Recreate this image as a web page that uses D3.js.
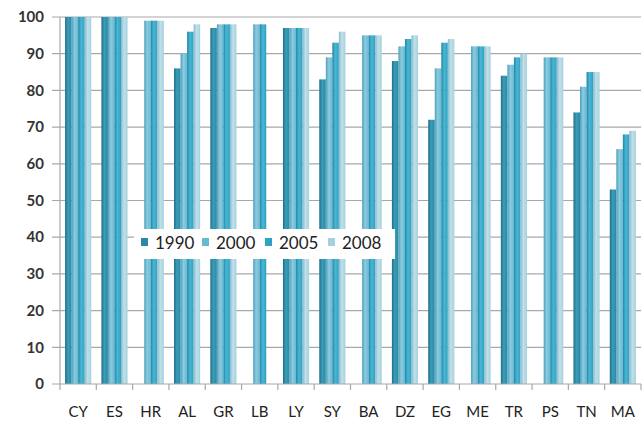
<!DOCTYPE html>
<html><head><meta charset="utf-8">
<script src="https://cdn.jsdelivr.net/npm/d3@7"></script>
<style>
html,body{margin:0;padding:0;background:#fff;}
svg{display:block;}
text{font-family:Lato,"Open Sans",sans-serif;}
</style></head>
<body><svg id="c" width="642" height="421"></svg>
<script>
const categories = ["CY","ES","HR","AL","GR","LB","LY","SY","BA","DZ","EG","ME","TR","PS","TN","MA"];
const seriesNames = ["1990","2000","2005","2008"];
const v1990 = [100,100,null,86,97,null,97,83,null,88,72,null,84,null,74,53];
const v2000 = [100,100,99,90,98,98,97,89,95,92,86,92,87,89,81,64];
const v2005 = [100,100,99,96,98,98,97,93,95,94,93,92,89,89,85,68];
const v2008 = [100,100,99,98,98,null,97,96,95,95,94,92,90,89,85,69];
const yTicks = [0,10,20,30,40,50,60,70,80,90,100];
const colors = ["#2a88a4","#68b8d2","#2ea2c3","#a5d1de"];
const dark = ["#1d6f87","#4c9fbb","#1f87a6","#8ab9c9"];
const light = ["#3c9db8","#8ccbe0","#4ab6d4","#c0e0ea"];

const seriesVals = [v1990,v2000,v2005,v2008];
const svg = d3.select("#c");
const m = {l:60, r:641, t:17, b:384};
const x = d3.scaleBand().domain(categories).range([m.l, m.r]).paddingInner(0.28).paddingOuter(0.14);
const x0 = d3.scaleBand().domain(categories).range([m.l, m.r]);
const xs = d3.scaleBand().domain(seriesNames).range([0, x.bandwidth()]);
const y = d3.scaleLinear().domain([0,100]).range([m.b, m.t]);

const defs = svg.append("defs");
seriesNames.forEach((s,i)=>{
  const g = defs.append("linearGradient").attr("id","g"+i).attr("x1","0").attr("x2","1").attr("y1","0").attr("y2","0");
  g.append("stop").attr("offset","0").attr("stop-color",dark[i]);
  g.append("stop").attr("offset","0.45").attr("stop-color",light[i]);
  g.append("stop").attr("offset","1").attr("stop-color",colors[i]);
});

// gridlines
svg.append("g").selectAll("line").data(yTicks.filter(d=>d>0)).join("line")
  .attr("x1", m.l-8).attr("x2", m.r).attr("y1", d=>y(d)).attr("y2", d=>y(d))
  .attr("stroke","#a8a8a8").attr("stroke-width",1.2);

// bars
const gBars = svg.append("g");
seriesNames.forEach((s,i)=>{
  gBars.append("g").selectAll("rect").data(categories.map((c,j)=>({c, v: seriesVals[i][j]})).filter(d=>d.v!=null))
    .join("rect")
    .attr("x", d=>x(d.c)+xs(s))
    .attr("width", xs.bandwidth())
    .attr("y", d=>y(d.v))
    .attr("height", d=>y(0)-y(d.v))
    .attr("fill","url(#g"+i+")");
});

// y axis line
svg.append("line").attr("x1",m.l).attr("x2",m.l).attr("y1",m.t).attr("y2",m.b).attr("stroke","#a8a8a8").attr("stroke-width",1.2);
// y tick labels
svg.append("g").selectAll("text").data(yTicks).join("text")
  .attr("x", 44).attr("y", d=>y(d)).attr("dy","0.35em").attr("text-anchor","end")
  .attr("font-size",15).attr("font-weight","bold").attr("fill","#333").text(d=>d);

// x axis
svg.append("line").attr("x1",m.l-8).attr("x2",m.r).attr("y1",m.b).attr("y2",m.b).attr("stroke","#a8a8a8").attr("stroke-width",1.2);
const bounds = categories.map(c=>x0(c)).concat([x0(categories[categories.length-1])+x0.bandwidth()]);
svg.append("g").selectAll("line").data(bounds).join("line")
  .attr("x1",d=>d).attr("x2",d=>d).attr("y1",m.b).attr("y2",m.b+6)
  .attr("stroke","#a8a8a8").attr("stroke-width",1.2);
svg.append("g").selectAll("text").data(categories).join("text")
  .attr("x", c=>x0(c)+x0.bandwidth()/2).attr("y", 412).attr("dy","0.35em").attr("text-anchor","middle")
  .attr("font-size",15).attr("fill","#222").text(c=>c);

// legend
const lg = svg.append("g");
lg.append("rect").attr("x",134).attr("y",229).attr("width",261).attr("height",30).attr("fill","#fff");
const lx = [141,202,265,328];
seriesNames.forEach((s,i)=>{
  lg.append("rect").attr("x",lx[i]).attr("y",238).attr("width",7).attr("height",8).attr("fill",colors[i]);
  lg.append("text").attr("x",lx[i]+14).attr("y",243).attr("dy","0.35em").attr("font-size",17).attr("fill","#222").text(s);
});
</script></body></html>
